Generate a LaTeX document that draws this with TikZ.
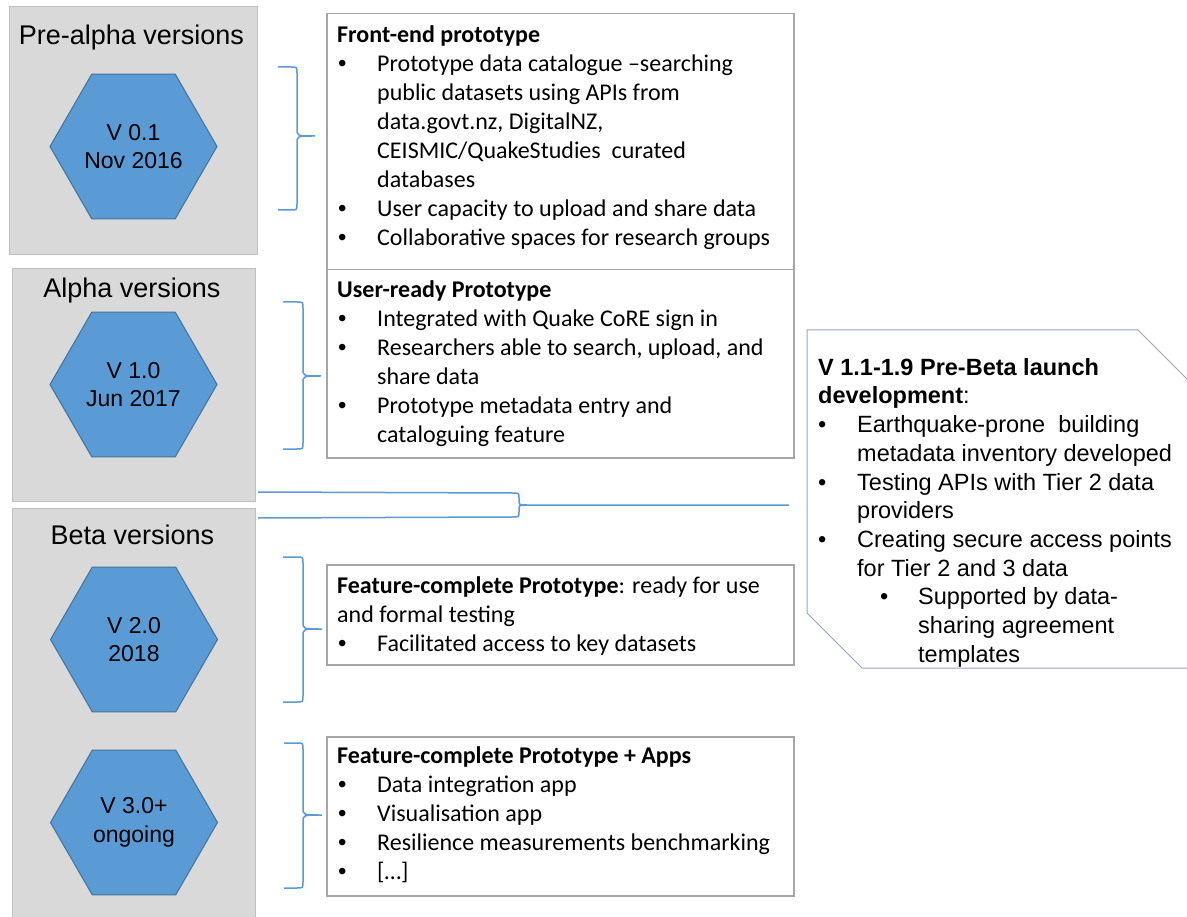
\documentclass[tikz,border=0pt]{standalone}
\usepackage{fontspec}
\setmainfont{Carlito}
\newfontfamily\arial{Liberation Sans}
\usetikzlibrary{shapes.geometric}
\definecolor{panelfill}{HTML}{D9D9D9}
\definecolor{panelline}{HTML}{BFBFBF}
\definecolor{hexfill}{HTML}{5B9BD5}
\definecolor{hexline}{HTML}{41719C}
\definecolor{boxline}{HTML}{A6A6A6}
\definecolor{bracecol}{HTML}{5B9BD5}
\definecolor{callline}{HTML}{8FA6C6}
\newcommand\fs{\rule{0pt}{20pt}}
\newcommand\bul[1]{\makebox[40pt][l]{\hspace{1pt}{\arial\textbullet}}#1}
\newcommand\cont[1]{\hspace*{40pt}#1}
\newcommand\cbul[1]{\makebox[39pt][l]{\textbullet}#1}
\newcommand\ccont[1]{\hspace*{39pt}#1}
\newcommand\drawbrace[6]{%
  \draw[brace] (#1,#4) -- ({#2-6},#4) .. controls (#2,#4) .. (#2,{#4+6})
    -- (#2,{#5-7}) .. controls (#2,#5) .. (#3,#5)
    .. controls (#2,#5) .. (#2,{#5+7})
    -- (#2,{#6-6}) .. controls (#2,#6) .. ({#2-6},#6) -- (#1,#6);}
\begin{document}
\begin{tikzpicture}[x=1pt,y=-1pt,
  panel/.style={draw=panelline, fill=panelfill, line width=1pt, anchor=north west, inner sep=0pt},
  hexa/.style={regular polygon, regular polygon sides=6, minimum size=167pt, inner sep=0pt,
    fill=hexfill, draw=hexline, line width=1pt, font=\arial\fontsize{23}{28.5}\selectfont, align=center},
  ptitle/.style={font=\arial\fontsize{27}{32}\selectfont, anchor=base, inner sep=0pt},
  box/.style={draw=boxline, line width=1.5pt, anchor=north west, inner sep=0pt},
  btext/.style={font=\fontsize{24}{29}\selectfont, align=left, anchor=north west, inner sep=0pt},
  ctext/.style={font=\arial\fontsize{23.5}{28.7}\selectfont, align=left, anchor=north west, inner sep=0pt},
  brace/.style={draw=bracecol, line width=1.5pt},
  callout/.style={draw=callline, line width=1pt}
]
\path[use as bounding box] (0,0) rectangle (1187,917);
\clip (0,0) rectangle (1187,917);
\fill[white] (0,0) rectangle (1187,917);

% panels
\node[panel, minimum width=248pt, minimum height=248pt] (pre) at (9,6) {};
\node[panel, minimum width=243pt, minimum height=233pt] (alp) at (11.5,268) {};
\node[panel, minimum width=243.5pt, minimum height=440pt] (bet) at (11.5,508) {};

\node[ptitle] (tpre) at (131.5,45) {Pre-alpha versions};
\node[ptitle] (talp) at (132,298) {Alpha versions};
\node[ptitle] (tbet) at (132.5,544) {Beta versions};

% hexagons
\node[hexa] (h1) at (133.5,146.5) {V 0.1\\Nov 2016};
\node[hexa] (h2) at (133.5,384.5) {V 1.0\\Jun 2017};
\node[hexa] (h3) at (134,639.5) {V 2.0\\2018};
\node[hexa] (h4) at (134,822.5) {V 3.0+\\ongoing};

% braces
\drawbrace{278}{297}{315}{67}{136}{210}
\drawbrace{283}{303}{321}{302}{376}{449}
\drawbrace{283}{303}{322}{557}{629}{702}
\drawbrace{284}{303}{322}{743}{815}{888}

% boxes
\node[box, minimum width=467pt, minimum height=256pt] (b1) at (326,13) {};
\node[box, minimum width=467pt, minimum height=188pt] (b2) at (326,269) {};
\node[box, minimum width=467pt, minimum height=100pt] (b3) at (326,564) {};
\node[box, minimum width=467pt, minimum height=159pt] (b4) at (326,736) {};

\node[btext] (t1) at (337,22.5) {\fs\textbf{Front-end prototype}\\
\bul{Prototype data catalogue –searching}\\
\cont{public datasets using APIs from}\\
\cont{data.govt.nz, DigitalNZ,}\\
\cont{CEISMIC/QuakeStudies\ \ curated}\\
\cont{databases}\\
\bul{User capacity to upload and share data}\\
\bul{Collaborative spaces for research groups}};

\node[btext] (t2) at (337,277) {\fs\textbf{User-ready Prototype}\\
\bul{Integrated with Quake CoRE sign in}\\
\bul{Researchers able to search, upload, and}\\
\cont{share data}\\
\bul{Prototype metadata entry and}\\
\cont{cataloguing feature}};

\node[btext] (t3) at (337,573) {\fs\textbf{Feature-complete Prototype}: ready for use\\
and formal testing\\
\bul{Facilitated access to key datasets}};

\node[btext] (t4) at (337,743) {\fs\textbf{Feature-complete Prototype + Apps}\\
\bul{Data integration app}\\
\bul{Visualisation app}\\
\bul{Resilience measurements benchmarking}\\
\bul{[…]}};

% connector bracket
\coordinate (c1) at (258,492);
\coordinate (c2) at (258,518);
\coordinate (cend) at (789,505);
\draw[brace] (c1) -- (512,493) .. controls (519,493) .. (519,498) -- (519,500)
  .. controls (519,505) .. (527,505) -- (cend);
\draw[brace] (c2) -- (512,517) .. controls (519,517) .. (519,512) -- (519,510)
  .. controls (519,505) .. (527,505);

% callout
\draw[callout] (807,330) -- (1138,330) -- (1196,388) -- (1196,668) -- (862,668) -- (807,613) -- cycle;
\node[ctext] (ct) at (818,356) {\rule{0pt}{19pt}\textbf{V 1.1-1.9 Pre-Beta launch}\\
\textbf{development}:\\
\cbul{Earthquake-prone\ \ building}\\
\ccont{metadata inventory developed}\\
\cbul{Testing APIs with Tier 2 data}\\
\ccont{providers}\\
\cbul{Creating secure access points}\\
\ccont{for Tier 2 and 3 data}\\
\hspace*{62pt}\makebox[38pt][l]{\textbullet}Supported by data-\\
\hspace*{100pt}sharing agreement\\
\hspace*{100pt}templates};
\end{tikzpicture}
\end{document}
